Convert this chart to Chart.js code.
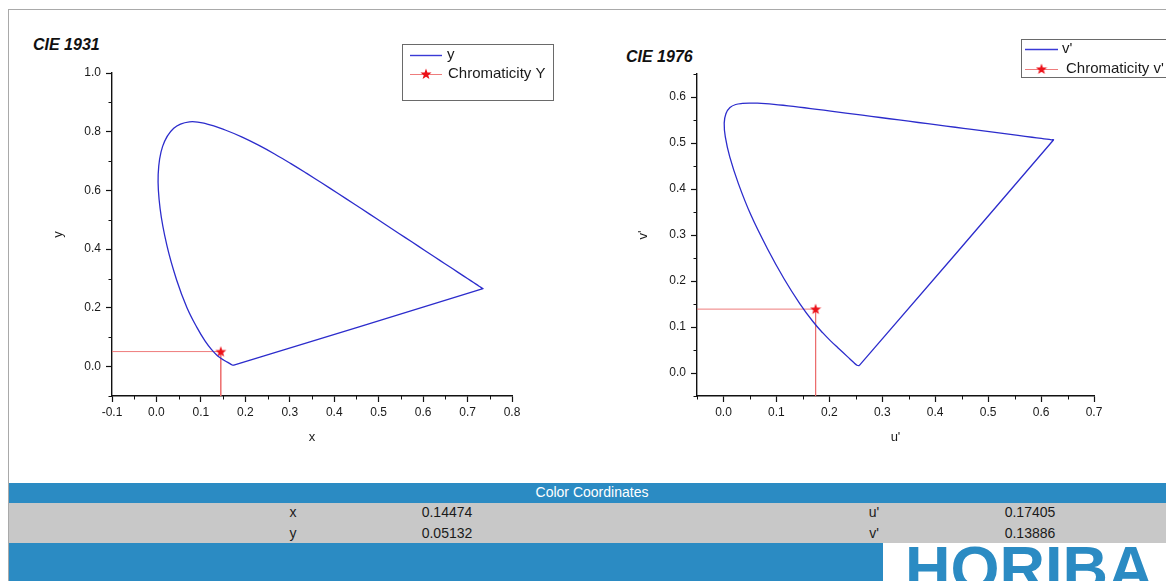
<!DOCTYPE html>
<html>
<head>
<meta charset="utf-8">
<script src="https://cdn.jsdelivr.net/npm/chart.js@4.4.1/dist/chart.umd.min.js"></script>
<style>
html,body{margin:0;padding:0;background:#fff;width:1166px;height:581px;overflow:hidden;position:relative;font-family:"Liberation Sans",Arial,sans-serif;}
.abs{position:absolute;}
.ctitle{font:italic bold 16px/16px "Liberation Sans",Arial,sans-serif;color:#111;white-space:nowrap;}
.cell{font:14px/20px "Liberation Sans",Arial,sans-serif;color:#1a1a1a;width:120px;text-align:center;white-space:nowrap;}
</style>
</head>
<body>
<div class="abs" style="left:8px;top:9px;width:1170px;height:580px;border-top:1px solid #a9a9a9;border-left:1px solid #a9a9a9;"></div>
<div class="abs ctitle" style="left:33px;top:37px;">CIE 1931</div>
<div class="abs ctitle" style="left:626px;top:49px;">CIE 1976</div>
<canvas id="c1931" class="abs" width="560" height="465" style="left:10px;top:10px;"></canvas>
<canvas id="c1976" class="abs" width="586" height="465" style="left:580px;top:10px;"></canvas>

<div class="abs" style="left:9px;top:483px;width:1157px;height:20px;background:#2b8bc3;"></div>
<div class="abs" style="left:9px;top:483px;width:1166px;height:20px;font:14px/19px 'Liberation Sans',Arial,sans-serif;color:#fff;text-align:center;">Color Coordinates</div>
<div class="abs" style="left:9px;top:503px;width:1157px;height:40px;background:#c8c8c8;"></div>
<div class="abs" style="left:9px;top:543px;width:1157px;height:38px;background:#2b8bc3;"></div>
<div class="abs" style="left:883px;top:543px;width:283px;height:38px;background:#fff;"></div>
<div class="abs" style="left:905px;top:537px;font:bold 63px/63px 'Liberation Sans',Arial,sans-serif;color:#2b8bc3;white-space:nowrap;">HORIBA</div>

<div class="abs cell" id="t_x" style="left:233px;top:502px;"></div>
<div class="abs cell" id="t_xv" style="left:387px;top:502px;"></div>
<div class="abs cell" id="t_y" style="left:233px;top:523px;"></div>
<div class="abs cell" id="t_yv" style="left:387px;top:523px;"></div>
<div class="abs cell" id="t_u" style="left:814px;top:502px;"></div>
<div class="abs cell" id="t_uv" style="left:970px;top:502px;"></div>
<div class="abs cell" id="t_v" style="left:814px;top:523px;"></div>
<div class="abs cell" id="t_vv" style="left:970px;top:523px;"></div>

<script>
// ---------- DATA ----------
// CIE 1931 spectral locus (x, y), closed with the purple line back to the start
const locusX = [0.1741,0.1733,0.1714,0.1689,0.1644,0.1566,0.1510,0.1440,0.1355,0.1241,0.1096,0.0913,0.0687,0.0454,0.0235,0.0082,0.0039,0.0139,0.0389,0.0743,0.1142,0.1547,0.1929,0.2296,0.2658,0.3016,0.3373,0.3731,0.4087,0.4441,0.4788,0.5125,0.5448,0.5752,0.6029,0.6270,0.6482,0.6658,0.6915,0.7079,0.7190,0.7260,0.7300,0.7334,0.7347,0.1741];
const locusY = [0.0050,0.0048,0.0051,0.0069,0.0109,0.0177,0.0227,0.0297,0.0399,0.0578,0.0868,0.1327,0.2007,0.2950,0.4127,0.5384,0.6548,0.7502,0.8120,0.8338,0.8262,0.8059,0.7816,0.7543,0.7243,0.6923,0.6589,0.6245,0.5896,0.5547,0.5202,0.4866,0.4544,0.4242,0.3965,0.3725,0.3514,0.3340,0.3083,0.2920,0.2809,0.2740,0.2700,0.2666,0.2653,0.0050];
// CIE 1976 spectral locus (u', v')
const locusU = [0.2568,0.2557,0.2522,0.2461,0.2347,0.2161,0.2033,0.1877,0.1690,0.1441,0.1147,0.0828,0.0521,0.0282,0.0119,0.0035,0.0014,0.0046,0.0123,0.0231,0.0360,0.0501,0.0643,0.0792,0.0953,0.1127,0.1319,0.1531,0.1766,0.2026,0.2312,0.2623,0.2960,0.3315,0.3681,0.4035,0.4379,0.4692,0.5203,0.5565,0.5830,0.6005,0.6109,0.6199,0.6234,0.2568];
const locusV = [0.0166,0.0159,0.0169,0.0226,0.0350,0.0549,0.0688,0.0871,0.1119,0.1510,0.2044,0.2708,0.3427,0.4117,0.4698,0.5131,0.5432,0.5638,0.5770,0.5837,0.5861,0.5868,0.5865,0.5856,0.5841,0.5821,0.5796,0.5766,0.5732,0.5694,0.5651,0.5604,0.5554,0.5501,0.5446,0.5393,0.5342,0.5296,0.5219,0.5165,0.5125,0.5099,0.5084,0.5070,0.5065,0.0166];
// measured chromaticity
const sampleX = 0.14474, sampleY = 0.05132;
const sampleU = 0.17405, sampleV = 0.13886;
// axis ranges and ticks
const xRange1931 = [-0.1, 0.8], yRange1931 = [-0.1, 1.0];
const xTicks1931 = [-0.1,0.0,0.1,0.2,0.3,0.4,0.5,0.6,0.7,0.8];
const xMinor1931 = [-0.05,0.05,0.15,0.25,0.35,0.45,0.55,0.65,0.75];
const yTicks1931 = [0.0,0.2,0.4,0.6,0.8,1.0];
const yMinor1931 = [-0.1,0.1,0.3,0.5,0.7,0.9];
const xRange1976 = [-0.05, 0.7], yRange1976 = [-0.05, 0.65];
const xTicks1976 = [0.0,0.1,0.2,0.3,0.4,0.5,0.6,0.7];
const xMinor1976 = [-0.05,0.05,0.15,0.25,0.35,0.45,0.55,0.65];
const yTicks1976 = [0.0,0.1,0.2,0.3,0.4,0.5,0.6];
const yMinor1976 = [-0.05,0.05,0.15,0.25,0.35,0.45,0.55,0.65];
// table
const tableLeft = [["x", "0.14474"], ["y", "0.05132"]];
const tableRight = [["u'", "0.17405"], ["v'", "0.13886"]];

// ---------- TABLE ----------
document.getElementById('t_x').textContent = tableLeft[0][0];
document.getElementById('t_xv').textContent = tableLeft[0][1];
document.getElementById('t_y').textContent = tableLeft[1][0];
document.getElementById('t_yv').textContent = tableLeft[1][1];
document.getElementById('t_u').textContent = tableRight[0][0];
document.getElementById('t_uv').textContent = tableRight[0][1];
document.getElementById('t_v').textContent = tableRight[1][0];
document.getElementById('t_vv').textContent = tableRight[1][1];

// ---------- CHARTS ----------
const BLUE = '#2c2ccc';
const PINK = 'rgba(236,110,110,0.9)';
const FONT = '"Liberation Sans", Arial, sans-serif';

const starImg = (() => {
  const c = document.createElement('canvas'); c.width = 12; c.height = 12;
  const g = c.getContext('2d'); g.fillStyle = '#ec1119'; g.beginPath();
  for (let i = 0; i < 10; i++) {
    const r = i % 2 ? 2.4 : 5.8; const a = -Math.PI / 2 + i * Math.PI / 5;
    g.lineTo(6 + r * Math.cos(a), 6.4 + r * Math.sin(a));
  }
  g.closePath(); g.fill(); return c;
})();

const minorTicksPlugin = {
  id: 'minorTicks',
  afterDraw(chart, args, opts) {
    const ctx = chart.ctx, xs = chart.scales.x, ys = chart.scales.y;
    ctx.save(); ctx.strokeStyle = '#111'; ctx.lineWidth = 1;
    (opts.x || []).forEach(v => {
      const px = Math.round(xs.getPixelForValue(v)) + 0.5;
      ctx.beginPath(); ctx.moveTo(px, xs.top); ctx.lineTo(px, xs.top + 3.5); ctx.stroke();
    });
    (opts.y || []).forEach(v => {
      const py = Math.round(ys.getPixelForValue(v)) + 0.5;
      ctx.beginPath(); ctx.moveTo(ys.right, py); ctx.lineTo(ys.right - 3.5, py); ctx.stroke();
    });
    ctx.restore();
  }
};

const boxLegendPlugin = {
  id: 'boxLegend',
  afterDraw(chart, args, o) {
    const ctx = chart.ctx; const ds = chart.data.datasets;
    ctx.save();
    ctx.fillStyle = '#fff'; ctx.fillRect(o.box[0], o.box[1], o.box[2], o.box[3]);
    ctx.strokeStyle = '#6a6a6a'; ctx.lineWidth = 1;
    ctx.strokeRect(o.box[0] + 0.5, o.box[1] + 0.5, o.box[2], o.box[3]);
    ctx.font = '15px ' + FONT; ctx.fillStyle = '#1a1a1a'; ctx.textBaseline = 'middle';
    ds.forEach((d, i) => {
      const y = o.rows[i];
      ctx.strokeStyle = i === 0 ? '#3a3ad6' : PINK; ctx.lineWidth = i === 0 ? 1.4 : 1;
      ctx.beginPath(); ctx.moveTo(o.lineX[0], y + 0.5); ctx.lineTo(o.lineX[1], y + 0.5); ctx.stroke();
      if (i === 1) ctx.drawImage(starImg, (o.lineX[0] + o.lineX[1]) / 2 - 6, y - 6);
      ctx.fillText(d.label, o.textX[i], y);
    });
    ctx.restore();
  }
};

function axis(range, ticks, title, fixed, isX) {
  return {
    type: 'linear', min: range[0], max: range[1],
    afterBuildTicks: s => { s.ticks = ticks.map(v => ({ value: v })); },
    afterFit: s => { if (isX) s.height = fixed; else s.width = fixed; },
    ticks: { callback: v => Number(v).toFixed(1), color: '#1a1a1a', font: { family: FONT, size: 12 }, padding: isX ? 3 : 5, maxRotation: 0, autoSkip: false },
    grid: { display: true, drawOnChartArea: false, drawTicks: true, tickLength: 6, tickColor: '#111', tickWidth: 1.2 },
    border: { display: true, color: '#111', width: 1.4 },
    title: { display: true, text: title, color: '#1a1a1a', font: { family: FONT, size: 13 }, padding: { top: 4, bottom: 4 } }
  };
}

function makeChart(id, cfg) {
  const pts = cfg.lx.map((x, i) => ({ x: x, y: cfg.ly[i] }));
  const cross = [{ x: cfg.xr[0], y: cfg.sy }, { x: cfg.sx, y: cfg.sy }, { x: cfg.sx, y: cfg.yr[0] }];
  return new Chart(document.getElementById(id), {
    type: 'scatter',
    data: {
      datasets: [
        { label: cfg.l1, data: pts, showLine: true, borderColor: BLUE, borderWidth: 1.3, pointRadius: 0, fill: false, tension: 0.4 },
        { label: cfg.l2, data: cross, showLine: true, borderColor: PINK, borderWidth: 1, fill: false, tension: 0,
          pointStyle: starImg, pointRadius: c => c.dataIndex === 1 ? 5 : 0, pointHoverRadius: 0 }
      ]
    },
    options: {
      responsive: false, animation: false, devicePixelRatio: 1,
      layout: { padding: cfg.pad },
      scales: {
        x: axis(cfg.xr, cfg.xt, cfg.xtitle, 53, true),
        y: axis(cfg.yr, cfg.yt, cfg.ytitle, 65, false)
      },
      plugins: {
        legend: { display: false }, tooltip: { enabled: false },
        minorTicks: { x: cfg.xm, y: cfg.ym },
        boxLegend: cfg.legend
      }
    },
    plugins: [minorTicksPlugin, boxLegendPlugin]
  });
}

makeChart('c1931', {
  lx: locusX, ly: locusY, sx: sampleX, sy: sampleY,
  xr: xRange1931, yr: yRange1931, xt: xTicks1931, yt: yTicks1931, xm: xMinor1931, ym: yMinor1931,
  xtitle: 'x', ytitle: 'y', l1: 'y', l2: 'Chromaticity Y',
  pad: { left: 37, top: 63, right: 58, bottom: 26 },
  legend: { box: [392, 34, 151, 56], rows: [45, 64], lineX: [400, 432], textX: [437, 438] }
});
makeChart('c1976', {
  lx: locusU, ly: locusV, sx: sampleU, sy: sampleV,
  xr: xRange1976, yr: yRange1976, xt: xTicks1976, yt: yTicks1976, xm: xMinor1976, ym: yMinor1976,
  xtitle: "u'", ytitle: "v'", l1: "v'", l2: "Chromaticity v'",
  pad: { left: 52, top: 64, right: 72, bottom: 26 },
  legend: { box: [441, 29, 180, 38], rows: [39, 59], lineX: [445, 478], textX: [482, 486] }
});
</script>
</body>
</html>
